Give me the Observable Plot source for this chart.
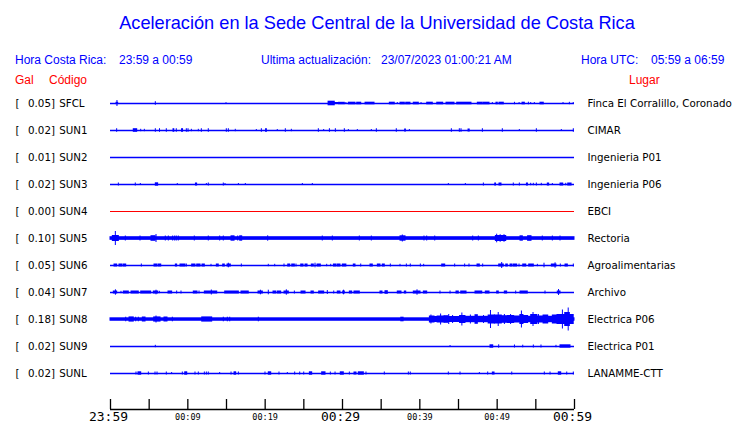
<!DOCTYPE html>
<html><head><meta charset="utf-8">
<script src="https://cdn.jsdelivr.net/npm/d3@7"></script>
<script src="https://cdn.jsdelivr.net/npm/@observablehq/plot@0.6"></script>
<style>
body{margin:0;background:#fff;}
#wrap{position:relative;width:740px;height:423px;overflow:hidden;}
#wrap svg{position:absolute;left:0;top:0;}
.h{position:absolute;font-family:"Liberation Sans",Arial,sans-serif;color:#0000ff;white-space:pre;line-height:14px;font-size:12px;}
.r{color:#ff0000;}
</style></head><body>
<div id="wrap">
<div class="h" style="left:0;width:754px;text-align:center;top:12px;font-size:18.2px;line-height:22px">Aceleración en la Sede Central de la Universidad de Costa Rica</div>
<div class="h" style="left:15px;top:53px">Hora Costa Rica:</div>
<div class="h" style="left:119px;top:53px">23:59 a 00:59</div>
<div class="h" style="left:261px;top:53px">Ultima actualización:</div>
<div class="h" style="left:381px;top:53px">23/07/2023 01:00:21 AM</div>
<div class="h" style="left:581px;top:53px">Hora UTC:</div>
<div class="h" style="left:651px;top:53px">05:59 a 06:59</div>
<div class="h r" style="left:15px;top:73px">Gal</div>
<div class="h r" style="left:49px;top:73px">Código</div>
<div class="h r" style="left:629px;top:73px">Lugar</div>
</div>
<script>
// ---- data ----
const codes = ["SFCL","SUN1","SUN2","SUN3","SUN4","SUN5","SUN6","SUN7","SUN8","SUN9","SUNL"];
const gal = ["0.05","0.02","0.01","0.02","0.00","0.10","0.05","0.04","0.18","0.02","0.02"];
const places = ["Finca El Corralillo, Coronado","CIMAR","Ingenieria P01","Ingenieria P06","EBCI","Rectoria","Agroalimentarias","Archivo","Electrica P06","Electrica P01","LANAMME-CTT"];
// background (continuous) trace amplitude per station
const baseAmp = [0,0,0,0,0,1.8,0,0,1.7,0,0];
// minute ticks (minutes after 23:59)
const tickMinutes = [0,5,10,15,20,25,30,35,40,45,50,55,60];
const majorLabels = [[0,"23:59"],[30,"00:29"],[60,"00:59"]];
const minorLabels = [[10,"00:09"],[20,"00:19"],[40,"00:39"],[50,"00:49"]];
// events: [minute, amplitude] or [fromMinute, toMinute, amplitude]
const evSFCL = [[0.78,0.99,1.2],[0.9,3],[5.86,1.8],[15.0,0.8],[28.2,29.0,2.3],[29.0,29.45,1],[29.55,30.3,1.2],[30.5,1],[30.82,31.68,1.3],[31.9,32.42,1.3],[32.98,34.14,1.3],[36.12,36.76,1.3],[37.15,1],[37.5,38.06,1.3],[38.24,38.79,1.3],[39.22,39.87,1.3],[40.22,1],[40.95,41.68,1.3],[42.25,43.02,1.3],[43.45,44.48,1.3],[44.83,46.68,1.3],[47.5,48.07,1.3],[48.2,49.01,1.3],[49.44,1],[49.91,50.08,1.3],[50.3,50.86,1.3],[52.3,1.2],[52.9,1],[53.28,53.58,1.3],[54.1,1.3],[54.4,1],[54.87,1],[55.6,56.03,1.3],[58.58,1],[59.4,1.2],[59.9,1]];
const evSUN1 = [[0.86,1.8],[3.01,3.45,1.8],[3.97,1.2],[4.44,1.2],[5.86,1.8],[6.4,1.8],[7.28,1.8],[8.15,8.25,1.8],[8.57,1.8],[9.25,9.38,1.8],[9.87,1.8],[10.09,1.8],[10.52,1.2],[11.42,1.2],[11.81,1.8],[12.71,1.8],[15.04,1.8],[15.3,1.8],[16.2,1.2],[18.92,1],[19.57,1.8],[20.12,20.22,1.8],[21.63,1],[22.67,1.8],[23.45,1.2],[26.94,1.8],[27.63,1],[28.37,1.8],[29.14,1.8],[30.3,1.8],[30.82,1],[31.98,1],[33.79,1],[34.44,1.8],[37.02,1.8],[38.1,38.2,1.5],[38.71,1],[44.14,1.8],[45.17,1.8],[45.39,1.8],[46.3,46.45,1.5],[48.15,1.8],[50.73,1.8],[52.93,1],[55.13,1.8],[58.36,1],[59.91,1.8]];
const evSUN2 = [];
const evSUN3 = [[1.08,1.5],[3.27,1.5],[3.92,1],[5.86,6.16,1.7],[8.7,1],[11.05,11.2,1.5],[12.46,1],[12.71,1.5],[14.65,1.5],[14.87,1],[16.6,1],[17.5,1],[24.87,1],[26.16,1],[43.75,1],[45.95,1],[48.28,1.5],[49.75,49.85,1.5],[50.3,50.56,1.5],[52.15,1.5],[52.93,1.5],[53.85,53.98,1.5],[54.4,1.2],[54.74,1.2],[55.13,1.5],[55.77,1.2],[56.55,56.72,1.5],[57.2,1],[58.19,58.54,1.5],[58.93,1.2],[59.19,59.62,1.5]];
const evSUN4 = [];
const evSUN5 = [[0.3,1.08,3],[0.69,7],[1.98,2.5],[3.88,2.5],[5.3,5.82,2.8],[5.95,4],[7.15,2.5],[7.54,2.5],[8.1,2.5],[8.36,2.5],[8.57,2.5],[8.83,2.5],[10.9,2.5],[12.71,2.5],[14.18,2.5],[14.65,2.5],[15.65,16.04,2.7],[16.51,2.5],[16.77,17.03,2.7],[20.39,2.7],[27.45,2.5],[28.75,2.5],[32.24,2.5],[33.79,2.5],[37.5,38.15,2.7],[37.8,3.5],[40.6,2.5],[40.95,2.5],[41.99,2.5],[46.9,2.5],[47.63,2.5],[49.83,51.17,3],[50.0,4.3],[50.45,3.8],[50.95,3.8],[53.02,53.32,2.7],[54.0,54.44,2.8],[55.9,2.5],[57.2,2.5],[58.19,2.5]];
const evSUN6 = [[0.52,0.86,1.5],[1.16,1.51,1.5],[1.68,2.03,1.5],[4.05,1.5],[5.69,6.04,1.5],[6.21,6.56,1.5],[8.45,8.62,1.5],[9.05,9.7,1.5],[9.87,1.5],[10.56,10.99,1.5],[11.21,11.64,1.5],[11.9,12.2,1.5],[13.06,1.2],[13.75,14.0,1.5],[14.57,14.78,1.5],[15.13,15.56,1.5],[15.3,2.3],[16.98,1.5],[20.47,1.2],[21.3,1.2],[22.5,1.5],[22.98,23.24,1.5],[23.5,23.84,1.5],[24.05,1.5],[24.66,24.96,1.5],[25.22,25.48,1.5],[26.03,26.29,1.5],[26.51,2.3],[26.77,27.2,1.5],[28.02,1.2],[28.54,1.2],[28.89,29.18,1.5],[29.35,29.74,1.5],[30.04,30.5,1.5],[31.46,31.68,1.5],[32.42,1.5],[33.62,33.92,1.5],[34.57,34.91,1.5],[35.21,35.47,1.5],[36.25,1.5],[37.5,1.2],[38.32,1.5],[38.83,1.5],[40.13,1.5],[40.56,1.2],[42.89,43.28,1.5],[44.57,1.5],[45.86,1.5],[46.42,1.5],[47.46,47.76,1.5],[48.19,1.5],[50.26,50.86,1.5],[50.65,3],[51.17,51.38,1.5],[51.73,51.98,1.5],[52.15,52.59,1.5],[52.89,1.5],[53.37,53.76,1.5],[54.14,54.74,1.5],[55.26,1.2],[56.12,2.3],[57.07,57.67,1.5],[57.55,2.7],[58.23,1.5],[58.84,59.14,1.5],[59.91,1.5]];
const evSUN7 = [[0.43,0.86,1.5],[0.7,2.7],[1.42,1.2],[1.72,2.37,1.5],[2.72,3.66,1.5],[3.97,5.26,1.5],[5.6,6.17,1.5],[5.95,2.3],[6.38,1.2],[7.5,7.97,1.5],[8.62,1.5],[9.18,1.5],[10.77,11.25,1.5],[11.51,1.5],[12.2,13.8,1.5],[13.1,2.5],[14.83,16.6,1.5],[16.94,17.88,1.5],[19.14,19.7,1.5],[19.45,2.3],[20.47,2.3],[21.08,21.43,1.5],[21.63,22.07,1.5],[22.5,23.06,1.5],[22.8,2.7],[23.84,1.5],[24.7,25.22,1.5],[25.99,26.29,1.5],[26.98,27.63,1.5],[28.1,2],[28.93,1.5],[29.39,29.74,1.5],[30.09,30.3,1.5],[30.2,2.3],[30.95,31.25,1.5],[31.55,32.24,1.5],[34.91,35.17,1.5],[35.56,35.86,1.8],[37.15,37.63,1.5],[38.06,38.24,1.5],[39.22,40.09,1.5],[39.7,2.7],[40.52,40.95,1.5],[42.67,1.5],[43.97,1.5],[44.74,45.04,1.5],[45.35,46.04,1.5],[47.2,48.07,1.5],[48.53,49.01,1.5],[50.0,50.21,1.5],[50.99,51.29,1.5],[52.46,1.5],[53.02,53.96,1.5],[56.25,1.5],[57.84,58.19,1.5],[58.0,3]];
const evSUN8 = [[2.03,2.3],[2.46,3.01,2.6],[3.32,2.3],[3.66,2.3],[4.18,4.53,2.5],[5.65,6.47,2.6],[5.95,3.5],[6.98,7.37,2.5],[8.06,2.3],[11.86,13.15,2.6],[14.65,2.3],[15.17,2.3],[15.48,2.3],[19.18,2.3],[37.6,37.9,2.3],
  [41.3,41.9,3.5],[41.5,4.5],[41.9,42.3,3],[42.3,43.2,3.5],[42.75,5.5],[43.2,43.7,3.8],[43.8,5],[43.7,45.2,3],[44.3,4],[45.2,45.9,4],[45.5,6.5],[45.9,47.2,3.2],[46.6,4.5],[47.2,47.5,4.8],[47.5,48.9,3.2],[48.3,4],[48.9,49.7,4.5],[49.2,9],[49.7,50.6,4.5],[50.2,7],[50.6,51.4,3.8],[51.0,5],[51.4,52.2,4],[51.8,5],[52.2,53.0,3.5],[53.0,53.4,5],[53.2,8.5],[53.4,54.0,4],[54.0,54.4,3.2],[54.4,55.2,5],[54.7,7],[55.2,56.0,3.5],[55.4,5],[56.0,56.6,4.5],[56.6,57.2,3.2],[57.2,57.8,4.5],[57.8,58.8,5],[58.5,9.5],[58.8,59.4,7],[59.25,11.5],[59.4,59.9,5]];
const evSUN9 = [[5.86,1.2],[43.97,1],[49.14,49.49,1.7],[50.26,1.7],[52.3,1.5],[53.37,1.3],[54.74,1.5],[55.73,1.5],[57.67,1.2],[58.19,59.48,1.7]];
const evSUNL = [[3.36,1.5],[3.62,3.97,1.7],[4.96,1.5],[5.82,1.5],[6.08,1.5],[7.28,1.5],[7.97,1],[9.35,1.5],[9.66,9.92,1.7],[10.99,1.5],[11.42,1.5],[12.2,1.5],[12.46,1.5],[12.71,1.5],[14.18,1],[15.65,1.5],[16.04,16.25,1.7],[16.6,1.5],[20.04,1.5],[20.47,20.78,1.7],[21.85,1.5],[22.93,1],[23.88,1.5],[24.53,1.5],[25.05,1.5],[25.78,26.08,1.7],[27.37,27.8,1.7],[28.49,1.5],[29.1,1.5],[29.78,30.17,1.7],[30.95,1.5],[31.55,31.81,1.5],[32.11,32.76,1.7],[33.1,1.5],[35.47,1.5],[38.58,1.5],[38.83,1.5],[43.75,1.5],[45.26,1.5],[47.76,1],[48.84,1.5],[49.44,49.66,1.5],[51.95,1.5],[56.16,1.5],[56.9,1.5],[57.97,58.28,1.7],[59.06,1.5],[59.91,1.5]];
const events = [evSFCL,evSUN1,evSUN2,evSUN3,evSUN4,evSUN5,evSUN6,evSUN7,evSUN8,evSUN9,evSUNL];

// ---- build ----
const BLUE = "#0000ff", RED = "#ff0000";
const rowPx = 27; // pixels per row (y unit)
const stations = codes.map((c, i) => ({i, code: c, gal: gal[i], place: places[i], color: c === "SUN4" ? RED : BLUE}));
const bursts = [];
events.forEach((ev, i) => {
  if (baseAmp[i] > 0) bursts.push({i, x1: 0, x2: 60, a: baseAmp[i]});
  ev.forEach(e => {
    if (e.length === 2) bursts.push({i, x1: e[0], x2: e[0], a: e[1]});
    else bursts.push({i, x1: e[0], x2: e[1], a: e[2]});
  });
});
const yMax = 10.5 + 12.5 / rowPx;
const mono = "'DejaVu Sans Mono', monospace";
const chart = Plot.plot({
  width: 740, height: 423,
  marginLeft: 110, marginRight: 166, marginTop: 89.5, marginBottom: 24,
  x: {domain: [0, 60], axis: null},
  y: {domain: [yMax, -0.5], axis: null},
  style: {fontFamily: "'DejaVu Sans', sans-serif", fontSize: "10.3px", background: "white", overflow: "visible"},
  marks: [
    Plot.ruleY(stations, {y: "i", x1: 0, x2: 60, stroke: "color", strokeWidth: d => d.color === RED ? 1 : 1.5}),
    Plot.rect(bursts, {x1: "x1", x2: "x2", y1: d => d.i - d.a / rowPx, y2: d => d.i + d.a / rowPx, fill: BLUE, insetLeft: -0.5, insetRight: -0.5}),
    Plot.text(stations, {y: "i", text: () => "[", frameAnchor: "left", dx: -95, textAnchor: "start", fill: "black"}),
    Plot.text(stations, {y: "i", text: d => d.gal + "]", frameAnchor: "left", dx: -55.5, textAnchor: "end", fill: "black"}),
    Plot.text(stations, {y: "i", text: "code", frameAnchor: "left", dx: -51.3, textAnchor: "start", fill: "black"}),
    Plot.text(stations, {y: "i", text: "place", frameAnchor: "right", dx: 13, textAnchor: "start", fill: "black"}),
    Plot.ruleY([yMax], {dy: 10, stroke: "black", strokeWidth: 1.3}),
    Plot.axisX(tickMinutes, {anchor: "bottom", tickSize: 10, tickFormat: () => "", stroke: "black", strokeWidth: 1.3}),
    Plot.axisX(majorLabels.map(d => d[0]), {anchor: "bottom", tickSize: 0, tickPadding: 12.5, dx: -2, tickFormat: d => majorLabels.find(m => m[0] === d)[1], fontSize: 13, fontFamily: mono, fill: "black"}),
    Plot.axisX(minorLabels.map(d => d[0]), {anchor: "bottom", tickSize: 0, tickPadding: 14, tickFormat: d => minorLabels.find(m => m[0] === d)[1], fontSize: 8.5, fontFamily: mono, fill: "black"})
  ]
});
document.getElementById("wrap").prepend(chart);
</script>
</body></html>
